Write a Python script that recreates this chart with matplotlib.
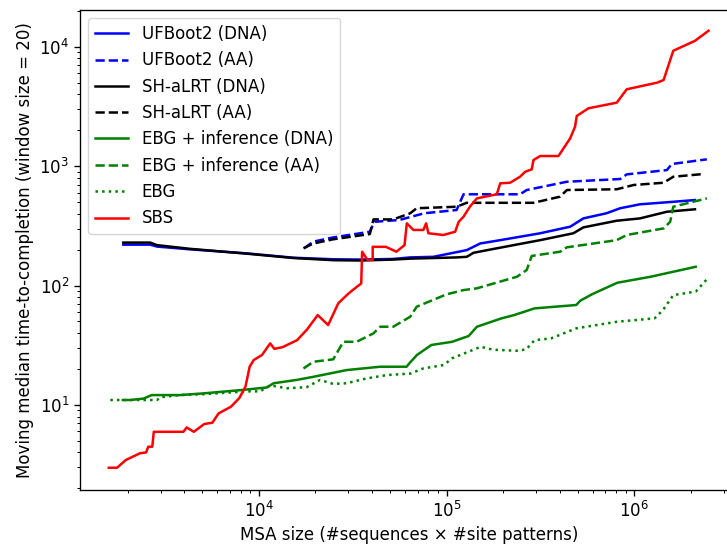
import numpy as np
import matplotlib
matplotlib.use("Agg")
import matplotlib.pyplot as plt

# moving-median runtimes (seconds) vs MSA size, window size 20
ufb_dna_x = [1.9e3, 2.64e3, 2.87e3, 4.3e3, 8.6e3, 1.53e4, 2.49e4, 3.46e4, 5.2e4, 6.4e4,
             8.5e4, 1.28e5, 1.51e5, 1.93e5, 3.15e5, 4.55e5, 5.35e5, 7.1e5, 8.4e5,
             1.07e6, 1.49e6, 2.1e6]
ufb_dna_y = [220, 220, 212, 201, 186, 171, 166, 165, 167, 172,
             174, 198, 225, 240, 274, 311, 365, 403, 444,
             479, 498, 520]

ufb_aa_x = [1.74e4, 1.95e4, 2.49e4, 3.9e4, 4.13e4, 5.6e4, 7.6e4, 1.13e5, 1.23e5,
            2.46e5, 2.67e5, 4.37e5, 8.4e5, 9.1e5, 1.49e6, 1.58e6, 2.43e6]
ufb_aa_y = [205, 233, 253, 282, 342, 354, 403, 429, 581,
            581, 631, 740, 780, 853, 927, 1042, 1140]

sh_dna_x = [1.9e3, 2.64e3, 2.87e3, 4.3e3, 8.6e3, 1.53e4, 2.49e4, 3.46e4, 5.2e4, 6.4e4,
            1.13e5, 1.28e5, 1.39e5, 1.85e5, 3.15e5, 4.73e5, 5.35e5, 8.05e5,
            1.07e6, 1.49e6, 2.1e6]
sh_dna_y = [229, 229, 218, 203, 185, 170, 163, 162, 165, 168,
            172, 174, 188, 205, 240, 274, 307, 349,
            365, 415, 435]

sh_aa_x = [1.73e4, 1.95e4, 2.49e4, 3.9e4, 4.08e4, 5.2e4, 6.4e4, 6.93e4, 1.13e5,
           1.28e5, 2.9e5, 4.02e5, 4.37e5, 8.05e5, 9.9e5, 1.43e6, 1.61e6, 2.33e6]
sh_aa_y = [205, 225, 244, 270, 358, 358, 403, 444, 457,
           493, 493, 555, 631, 640, 695, 726, 815, 859]

ebg_inf_dna_x = [1.89e3, 2.07e3, 2.43e3, 2.69e3, 3.81e3, 5.07e3, 7.95e3, 1.1e4, 1.2e4,
                 1.59e4, 1.95e4, 2.94e4, 4.43e4, 6.12e4, 6.44e4, 6.95e4, 8.3e4,
                 1.07e5, 1.31e5, 1.45e5, 1.96e5, 2.29e5, 2.94e5, 4.9e5, 5.15e5,
                 5.99e5, 8.1e5, 1.22e6, 2.12e6]
ebg_inf_dna_y = [11.0, 11.0, 11.3, 12.1, 12.1, 12.5, 13.3, 14.0, 15.2,
                 16.2, 17.2, 19.6, 20.9, 20.9, 23.0, 26.2, 31.8,
                 33.8, 37.8, 45.2, 53.1, 56.6, 64.4, 68.7, 74.7,
                 85.0, 105.5, 118.5, 143.6]

ebg_inf_aa_x = [1.73e4, 1.95e4, 2.49e4, 2.82e4, 3.32e4, 4.08e4, 4.43e4, 5.2e4, 6.4e4,
                6.93e4, 1.0e5, 1.23e5, 1.45e5, 2.37e5, 2.67e5, 2.84e5, 4.02e5,
                4.37e5, 8.05e5, 9.1e5, 1.43e6, 1.55e6, 1.61e6, 2.43e6]
ebg_inf_aa_y = [20.2, 23.0, 24.1, 33.8, 33.8, 39.8, 45.2, 45.2, 54.8,
                66.5, 84.4, 91.6, 94.8, 118.5, 135, 177, 192,
                209, 240, 265, 301, 342, 457, 537]

ebg_x = [1.62e3, 2.87e3, 3.0e3, 3.81e3, 5.07e3, 8.63e3, 1.02e4, 1.1e4, 1.2e4, 1.41e4,
         1.8e4, 2.12e4, 2.49e4, 2.94e4, 3.76e4, 4.81e4, 6.4e4, 7.5e4, 9.66e4,
         1.07e5, 1.52e5, 1.77e5, 2.4e5, 2.66e5, 2.94e5, 3.6e5, 4.9e5, 8.1e5,
         1.28e6, 1.42e6, 1.61e6, 2.12e6, 2.48e6]
ebg_y = [11.0, 11.0, 11.6, 12.1, 12.3, 13.0, 13.0, 14.1, 14.4, 13.8,
         14.1, 16.2, 15.0, 15.2, 16.7, 17.8, 18.3, 20.2, 21.6,
         24.6, 30.7, 29.0, 28.4, 29.3, 34.9, 36.1, 43.8, 49.8,
         53.1, 62.4, 83.2, 89.0, 117]

sbs_x = [1.59e3, 1.76e3, 1.96e3, 2.33e3, 2.51e3, 2.58e3, 2.71e3, 2.76e3, 3.97e3,
         4.13e3, 4.51e3, 5.12e3, 5.66e3, 6.11e3, 7.11e3, 7.87e3, 8.49e3, 8.94e3,
         9.4e3, 1.04e4, 1.15e4, 1.21e4, 1.34e4, 1.6e4, 1.81e4, 2.06e4, 2.34e4,
         2.65e4, 3.01e4, 3.33e4, 3.51e4, 3.55e4, 3.79e4, 4.04e4, 4.04e4, 4.75e4,
         5.4e4, 5.97e4, 6.14e4, 6.66e4, 7.52e4, 7.78e4, 8.0e4, 9.6e4, 1.11e5,
         1.16e5, 1.23e5, 1.33e5, 1.45e5, 1.85e5, 1.93e5, 2.18e5, 2.46e5, 2.62e5,
         2.84e5, 2.9e5, 3.15e5, 3.94e5, 4.55e5, 4.83e5, 4.93e5, 5.69e5, 8.05e5,
         9.1e5, 1.32e6, 1.43e6, 1.61e6, 2.1e6, 2.48e6]
sbs_y = [2.98, 2.98, 3.46, 3.94, 4.0, 4.47, 4.47, 5.96, 5.96,
         6.48, 5.96, 6.92, 7.1, 8.5, 9.67, 11.4, 14.2, 20.9,
         23.8, 26.2, 32.8, 29.5, 30.5, 34.9, 43, 56.6, 46.7,
         71, 86, 97.7, 104, 192, 164, 164, 211, 211,
         192, 218, 332, 292, 292, 332, 274, 265, 282,
         342, 377, 457, 537, 581, 718, 726, 815, 897,
         940, 1125, 1215, 1215, 1710, 2140, 2630, 3050, 3400,
         4400, 5000, 5260, 9250, 11200, 13600]

# figure was rendered at 1.2x the default scale
plt.rcParams.update({
    'font.size': 12,
    'lines.linewidth': 1.8,
    'axes.linewidth': 0.96,
    'xtick.major.size': 4.2, 'ytick.major.size': 4.2,
    'xtick.major.width': 0.96, 'ytick.major.width': 0.96,
    'xtick.minor.size': 2.4, 'ytick.minor.size': 2.4,
    'xtick.minor.width': 0.72, 'ytick.minor.width': 0.72,
})

W, H = 727, 546
fig = plt.figure(figsize=(W / 100, H / 100), dpi=100)
ax = fig.add_axes([80 / W, 1 - 490 / H, 658 / W, 480 / H])

ax.plot(ufb_dna_x, ufb_dna_y, color='blue', ls='-', label='UFBoot2 (DNA)')
ax.plot(ufb_aa_x, ufb_aa_y, color='blue', ls='--', label='UFBoot2 (AA)')
ax.plot(sh_dna_x, sh_dna_y, color='black', ls='-', label='SH-aLRT (DNA)')
ax.plot(sh_aa_x, sh_aa_y, color='black', ls='--', label='SH-aLRT (AA)')
ax.plot(ebg_inf_dna_x, ebg_inf_dna_y, color='green', ls='-',
        label='EBG + inference (DNA)')
ax.plot(ebg_inf_aa_x, ebg_inf_aa_y, color='green', ls='--',
        label='EBG + inference (AA)')
ax.plot(ebg_x, ebg_y, color='green', ls=':', label='EBG')
ax.plot(sbs_x, sbs_y, color='red', ls='-', label='SBS')

ax.set_xscale('log'); ax.set_yscale('log')
ax.set_xlim(1117, 3.56e6); ax.set_ylim(1.94, 2.03e4)
ax.set_xlabel('MSA size (#sequences × #site patterns)')
ax.set_ylabel('Moving median time-to-completion (window size = 20)')
ax.legend(loc='upper left')

fig.savefig('out.png', dpi=100)
